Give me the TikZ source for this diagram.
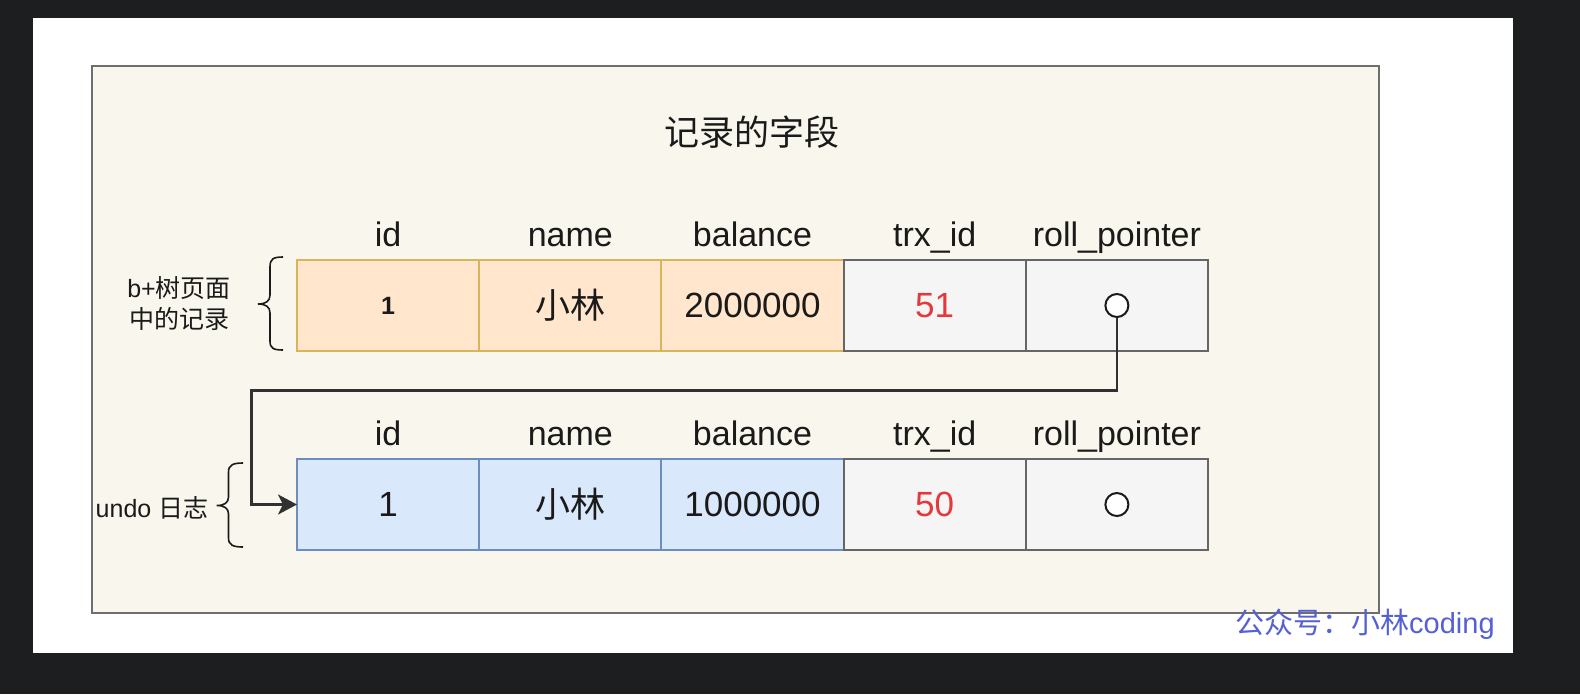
\documentclass[tikz,border=0pt]{standalone}
\usepackage{fontspec}
\setmainfont{Liberation Sans}
\newfontfamily\cjk{Noto Sans CJK SC}
\usetikzlibrary{arrows.meta}
\definecolor{bgdark}{RGB}{29,30,32}
\definecolor{panelfill}{HTML}{F9F7ED}
\definecolor{panelline}{HTML}{6E6E6E}
\definecolor{orfill}{HTML}{FFE6CC}
\definecolor{orline}{HTML}{D6B656}
\definecolor{blfill}{HTML}{DAE8FC}
\definecolor{blline}{HTML}{6C8EBF}
\definecolor{grfill}{HTML}{F5F5F5}
\definecolor{grline}{HTML}{666666}
\definecolor{redtxt}{RGB}{228,56,60}
\definecolor{txtdark}{HTML}{1A1A1A}
\definecolor{wmark}{RGB}{85,96,213}
\begin{document}
\begin{tikzpicture}[x=1pt,y=-1pt,
  cell/.style={draw, line width=2pt, minimum width=182.2pt, minimum height=91pt,
    inner sep=0pt, outer sep=0pt, text=txtdark, font=\fontsize{35}{42}\selectfont},
  orangecell/.style={cell, fill=orfill, draw=orline},
  bluecell/.style={cell, fill=blfill, draw=blline},
  graycell/.style={cell, fill=grfill, draw=grline},
  lbl/.style={anchor=base, text=txtdark, inner sep=0pt, font=\fontsize{34}{40}\selectfont},
  side/.style={text=txtdark, inner sep=0pt, align=center, font=\fontsize{25}{31}\selectfont},
  ptr/.style={circle, draw=txtdark, fill=white, line width=2pt, minimum size=23pt, inner sep=0pt},
  conn/.style={draw=txtdark!90, line width=2.5pt},
  bracestyle/.style={draw=txtdark, line width=1.6pt}
]
\useasboundingbox (0,0) rectangle (1580,694);
\fill[bgdark] (0,0) rectangle (1580,694);
\fill[white] (33,18) rectangle (1513,653);
\draw[fill=panelfill, draw=panelline, line width=2.5pt] (92,66) rectangle (1379,613);

% title
\node[anchor=base, text=txtdark, inner sep=0pt, font=\cjk\fontsize{35}{42}\selectfont] (title) at (752,145) {记录的字段};

% top row headers
\node[lbl] (ha1) at (388.1,246.7) {id};
\node[lbl] (ha2) at (570.3,246.7) {name};
\node[lbl] (ha3) at (752.5,246.7) {balance};
\node[lbl] (ha4) at (934.7,246.7) {trx\_id};
\node[lbl] (ha5) at (1116.9,246.7) {roll\_pointer};

% top row cells
\node[orangecell] (a1) at (388.1,305.5) {\fontsize{25}{30}\selectfont\bfseries 1};
\node[orangecell] (a2) at (570.3,305.5) {\cjk 小林};
\node[orangecell] (a3) at (752.5,305.5) {2000000};
\node[graycell] (a4) at (934.7,305.5) {\color{redtxt}51};
\node[graycell] (a5) at (1116.9,305.5) {};

% bottom row headers
\node[lbl] (hb1) at (388.1,445.7) {id};
\node[lbl] (hb2) at (570.3,445.7) {name};
\node[lbl] (hb3) at (752.5,445.7) {balance};
\node[lbl] (hb4) at (934.7,445.7) {trx\_id};
\node[lbl] (hb5) at (1116.9,445.7) {roll\_pointer};

% bottom row cells
\node[bluecell] (b1) at (388.1,504.5) {1};
\node[bluecell] (b2) at (570.3,504.5) {\cjk 小林};
\node[bluecell] (b3) at (752.5,504.5) {1000000};
\node[graycell] (b4) at (934.7,504.5) {\color{redtxt}50};
\node[graycell] (b5) at (1116.9,504.5) {};

% pointers
\node[ptr] (p1) at (a5.center) {};
\node[ptr] (p2) at (b5.center) {};

% connector
\coordinate (turn) at (251.7,390.7);
\draw[conn, -{Stealth[length=19pt,width=20pt,inset=5pt]}] (p1.south) |- (turn) |- (b1.west);

% side labels
\node[side] (sidea) at (179,304) {b+{\cjk 树页面}\\{\cjk 中的记录}};
\node[side, anchor=base] (sideb) at (152,517) {undo {\cjk 日志}};

% braces
\draw[bracestyle] (283,257) .. controls (273,257) and (270,259) .. (270,267) -- (270,295)
  .. controls (270,301) and (266,304) .. (258,304)
  .. controls (266,304) and (270,307) .. (270,313) -- (270,341)
  .. controls (270,348) and (273,350) .. (283,350);
\draw[bracestyle] (243,463) .. controls (233,463) and (228.5,465) .. (228.5,472) -- (228.5,497)
  .. controls (228.5,503) and (224,505.5) .. (216.7,505.5)
  .. controls (224,505.5) and (228.5,508) .. (228.5,514) -- (228.5,538)
  .. controls (228.5,545) and (233,547) .. (243,547);

% watermark
\node[anchor=base west, inner sep=0pt, text=wmark, font=\fontsize{29}{34}\selectfont] (wm) at (1235,633) {{\cjk 公众号：小林}coding};
\end{tikzpicture}
\end{document}
